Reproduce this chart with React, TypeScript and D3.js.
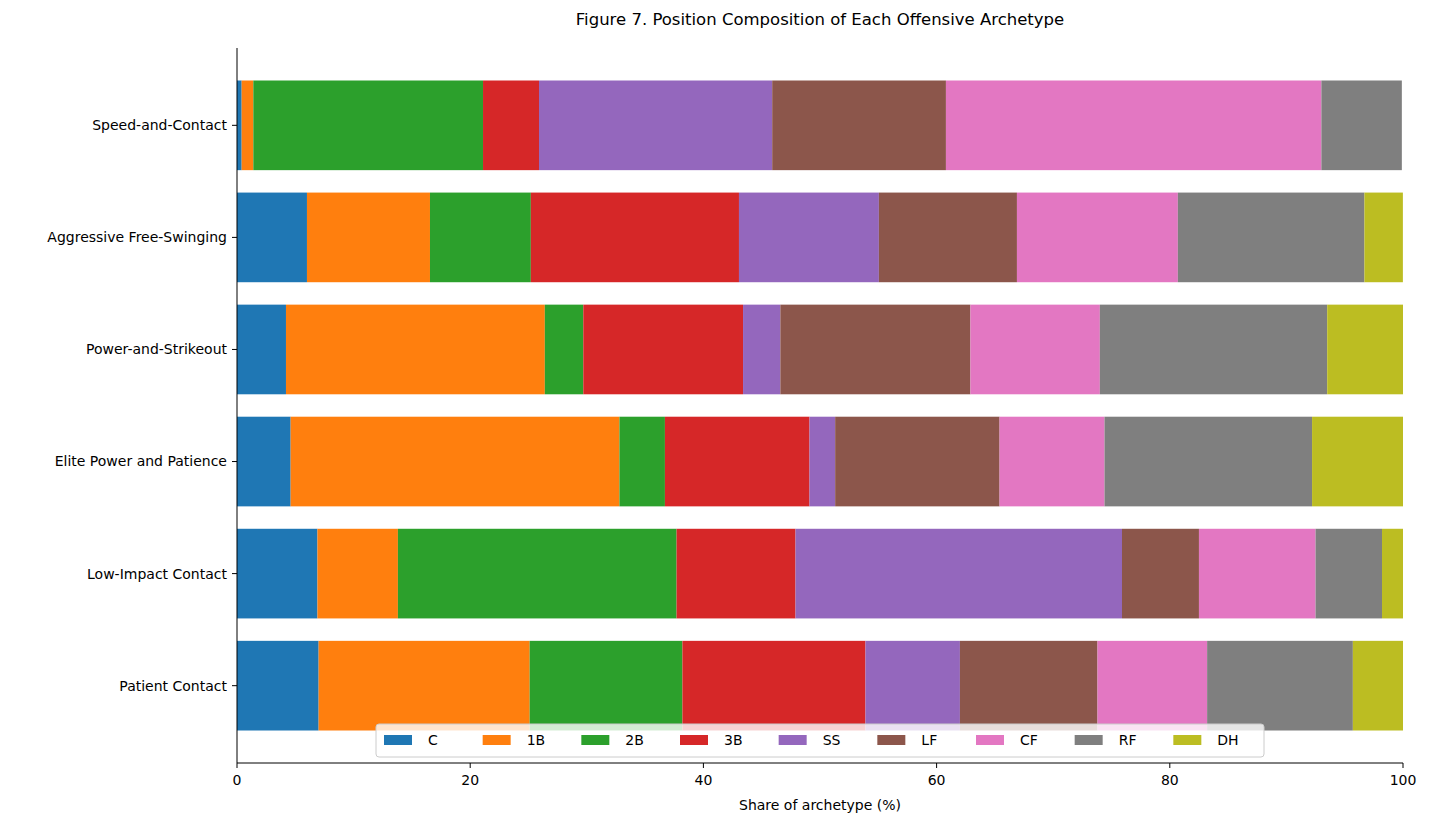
import React from "react";
import * as d3 from "d3";

const archetypes = [
  "Patient Contact",
  "Low-Impact Contact",
  "Elite Power and Patience",
  "Power-and-Strikeout",
  "Aggressive Free-Swinging",
  "Speed-and-Contact",
];
const positions = ["C", "1B", "2B", "3B", "SS", "LF", "CF", "RF", "DH"];
const colors = ["#1f77b4", "#ff7f0e", "#2ca02c", "#d62728", "#9467bd", "#8c564b", "#e377c2", "#7f7f7f", "#bcbd22"];

// share per position, one row per archetype (same order as archetypes)
const patientContact = [7.0, 18.1, 13.1, 15.7, 8.1, 11.8, 9.4, 12.5, 4.3];
const lowImpactContact = [6.9, 6.9, 23.9, 10.2, 28.0, 6.6, 10.0, 5.7, 1.8];
const elitePower = [4.6, 28.2, 3.9, 12.4, 2.2, 14.1, 9.0, 17.8, 7.8];
const powerStrikeout = [4.2, 22.2, 3.3, 13.7, 3.2, 16.3, 11.1, 19.5, 6.5];
const aggressive = [6.0, 10.55, 8.65, 17.85, 12.0, 11.84, 13.8, 16.0, 3.3];
const speedContact = [0.4, 1.0, 19.7, 4.8, 20.0, 14.9, 32.2, 6.9, 0.0];
const shares = [patientContact, lowImpactContact, elitePower, powerStrikeout, aggressive, speedContact];

const xTicks = [0, 20, 40, 60, 80, 100];

const W = 1431;
const H = 828;
const left = 237;
const right = 1403;
const top = 48;
const bottom = 763;

const App: React.FC = () => {
  const x = d3.scaleLinear().domain([0, 100]).range([left, right]);
  const y = d3.scaleLinear().domain([-0.69, 5.69]).range([bottom, top]);
  const barH = y(0) - y(0.8);

  const legendW = 888;
  const legendX = (left + right) / 2 - legendW / 2;
  const legendY = 724;
  const itemW = legendW / 9;

  return (
    <svg width={W} height={H} style={{ position: "absolute", left: 0, top: 0 }} fontFamily="DejaVu Sans, sans-serif">
      <rect width={W} height={H} fill="white" />
      <text x={(left + right) / 2} y={25} textAnchor="middle" fontSize={16.5}>
        Figure 7. Position Composition of Each Offensive Archetype
      </text>
      {shares.map((row, i) => {
        let acc = 0;
        return row.map((v, j) => {
          const x0 = acc;
          acc += v;
          return (
            <rect key={`${i}-${j}`} x={x(x0)} y={y(i) - barH / 2} width={x(acc) - x(x0)} height={barH} fill={colors[j]} />
          );
        });
      })}
      <line x1={left} x2={left} y1={top} y2={bottom} stroke="black" strokeWidth={1} />
      <line x1={left} x2={right} y1={bottom} y2={bottom} stroke="black" strokeWidth={1} />
      {archetypes.map((a, i) => (
        <g key={a}>
          <line x1={left - 5} x2={left} y1={y(i)} y2={y(i)} stroke="black" />
          <text x={left - 10} y={y(i)} dy="0.35em" textAnchor="end" fontSize={14}>
            {a}
          </text>
        </g>
      ))}
      {xTicks.map((t) => (
        <g key={t}>
          <line x1={x(t)} x2={x(t)} y1={bottom} y2={bottom + 5} stroke="black" />
          <text x={x(t)} y={bottom + 22} textAnchor="middle" fontSize={14}>
            {t}
          </text>
        </g>
      ))}
      <text x={(left + right) / 2} y={810} textAnchor="middle" fontSize={14}>
        Share of archetype (%)
      </text>
      <rect x={legendX} y={legendY} width={legendW} height={33} rx={3} fill="white" fillOpacity={0.8} stroke="#cccccc" />
      {positions.map((p, j) => (
        <g key={p} transform={`translate(${legendX + 8 + j * itemW},${legendY + 16})`}>
          <rect x={0} y={-5} width={28} height={10} fill={colors[j]} />
          <text x={44} y={0} dy="0.35em" fontSize={14}>
            {p}
          </text>
        </g>
      ))}
    </svg>
  );
};

export default App;
